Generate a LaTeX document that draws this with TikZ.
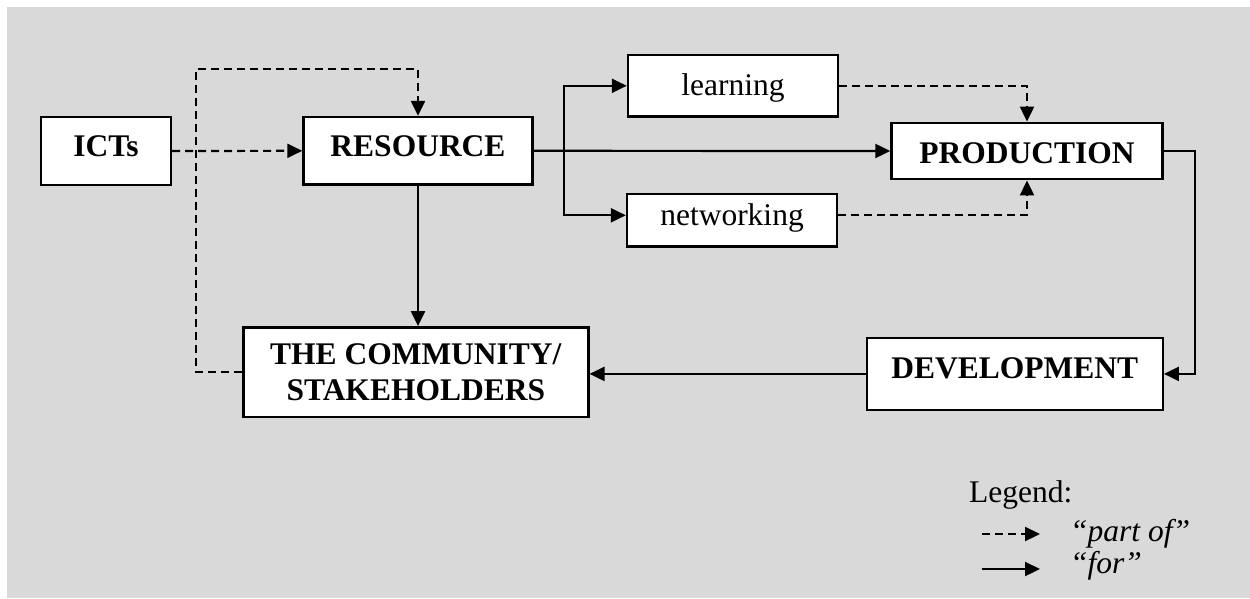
\documentclass[tikz,border=0pt]{standalone}
\usepackage{fontspec}
\setmainfont{Liberation Serif}
\usetikzlibrary{arrows.meta}
\begin{document}
\begin{tikzpicture}[x=1pt,y=-1pt,
  txt/.style={font=\fontsize{31.5}{36.5}\selectfont},
  box/.style={draw=black, fill=white, line width=2.4pt, inner sep=0pt, txt},
  bbox/.style={box, font=\fontsize{31.5}{36.5}\selectfont\bfseries},
  conn/.style={line width=2.2pt, -{Triangle[length=15pt,width=14pt]}},
  dsh/.style={conn, dash pattern=on 8pt off 5pt},
  ]
\useasboundingbox (0,0) rectangle (1250,598);
\fill[fill={rgb,255:red,217;green,217;blue,217}] (7,7) rectangle (1250,598);

\node[bbox, minimum width=130pt, minimum height=68pt, text height=22pt, text depth=12pt] (icts) at (106,151) {ICTs};
\node[bbox, minimum width=229pt, minimum height=67.5pt, text height=22pt, text depth=10pt] (res) at (418,150.8) {RESOURCE};
\node[box, minimum width=210pt, minimum height=61.5pt, text height=22pt, text depth=3.6pt] (learn) at (733,85.8) {learning};
\node[box, minimum width=210pt, minimum height=52.7pt, text height=22pt, text depth=12.6pt] (net) at (732,220.3) {networking};
\node[bbox, minimum width=271pt, minimum height=56.5pt, text height=25pt, text depth=0pt] (prod) at (1027,151) {PRODUCTION};
\node[bbox, minimum width=296pt, minimum height=72.3pt, text height=22pt, text depth=13.4pt] (dev) at (1014.7,373.9) {DEVELOPMENT};
\node[bbox, minimum width=345pt, minimum height=89.4pt, align=center] (comm) at (415.8,372) {THE COMMUNITY/\\STAKEHOLDERS};

\coordinate (loop) at (196,69);
\coordinate (br) at (564.3,151);

\draw[dsh] (icts.east) -- (res.west);
\draw[dsh] (comm.west) -| (loop) -| (res.north);
\draw[conn] (res.east) -- (prod.west);
\draw[conn] (br) |- (learn.west);
\draw[conn] (br) |- ([yshift=5pt]net.west);
\draw[dsh] (learn.east) -| (prod.north);
\draw[dsh] ([yshift=5pt]net.east) -| (prod.south);
\draw[conn] (prod.east) -- ++(31,0) |- (dev.east);
\draw[conn] (dev.west) -- (comm.east |- dev.west);
\draw[conn] (res.south) -- (res.south |- comm.north);

\node[txt, anchor=base west, inner sep=0pt] (leg) at (969,502) {Legend:};
\node[txt, anchor=base west, inner sep=0pt] (partof) at (1070,541.7) {\itshape “part of”};
\node[txt, anchor=base west, inner sep=0pt] (for) at (1070,573.3) {\itshape “for”};
\coordinate (la) at (982,534);
\coordinate (lb) at (1040,534);
\coordinate (lc) at (982,569);
\coordinate (ld) at (1040,569);
\draw[dsh] (la) -- (lb);
\draw[conn] (lc) -- (ld);
\end{tikzpicture}
\end{document}
